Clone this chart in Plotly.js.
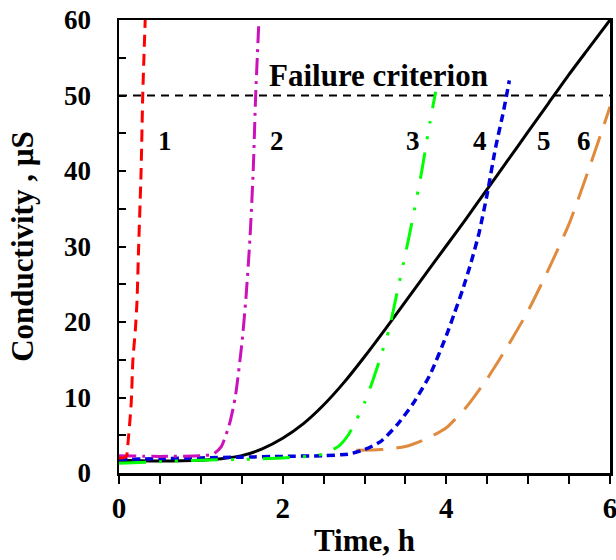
<!DOCTYPE html>
<html><head><meta charset="utf-8">
<script src="https://cdn.plot.ly/plotly-3.0.1.min.js"></script>
<style>html,body{margin:0;padding:0;background:#fff}#chart{width:616px;height:560px}</style>
</head><body><div id="chart"></div>
<script>
// Curve 1 (red dashed)
const x1 = [0, 0.05, 0.09, 0.11, 0.13, 0.15, 0.17, 0.2, 0.22, 0.24, 0.27, 0.29, 0.32];
const y1 = [2.0, 2.0, 2.2, 4, 6.5, 9.4, 15, 19, 22.7, 30, 40, 50, 60];
// Curve 2 (magenta dash-dot)
const x2 = [0, 0.5, 1.0, 1.15, 1.25, 1.35, 1.42, 1.5, 1.55, 1.6, 1.64, 1.67, 1.71];
const y2 = [2.3, 2.2, 2.3, 2.5, 3.5, 6.5, 10, 17, 23, 31, 40, 50, 60];
// Curve 3 (green dash-dot-dot)
const x3 = [0, 0.5, 1.0, 1.5, 2.0, 2.3, 2.5, 2.6, 2.7, 2.8, 2.9, 3.0, 3.1, 3.2, 3.3, 3.4, 3.5, 3.6, 3.7, 3.8, 3.87];
const y3 = [1.3, 1.5, 1.7, 1.8, 2.0, 2.2, 2.5, 3.0, 3.7, 5.0, 7.0, 9.3, 12.2, 15.5, 19, 24, 29, 34.3, 40, 46.5, 50.5];
// Curve 4 (blue short dash)
const x4 = [0, 0.5, 1.0, 1.5, 2.0, 2.5, 2.8, 3.0, 3.2, 3.4, 3.6, 3.8, 4.0, 4.1, 4.2, 4.3, 4.4, 4.5, 4.6, 4.7, 4.77];
const y4 = [1.8, 1.9, 2.0, 2.1, 2.2, 2.3, 2.5, 3.1, 4.2, 6.4, 9.3, 13.0, 18.2, 21.2, 24.3, 27.8, 31.8, 37, 43, 48, 52];
// Curve 5 (black solid)
const x5 = [0, 0.5, 1.0, 1.25, 1.5, 1.75, 2.0, 2.25, 2.5, 2.75, 3.0, 3.25, 3.5, 3.75, 4.0, 4.25, 4.5, 4.75, 5.0, 5.25, 5.5, 5.75, 6.0];
const y5 = [1.7, 1.6, 1.7, 1.9, 2.3, 3.2, 4.6, 6.5, 9.0, 12.0, 15.4, 19.0, 22.7, 26.4, 30.1, 33.8, 37.6, 41.4, 45.2, 49.0, 52.8, 56.4, 60];
// Curve 6 (orange long dash)
const x6 = [2.9, 3.2, 3.5, 3.75, 4.0, 4.25, 4.5, 4.75, 5.0, 5.25, 5.5, 5.75, 6.0];
const y6 = [3.0, 3.1, 3.5, 4.5, 6.0, 8.8, 12.5, 16.8, 21.5, 27, 33, 40.5, 48.5];
// Failure criterion line
const xFail = [0, 6];
const yFail = [50, 50];
// Curve labels
const labelText = ['1', '2', '3', '4', '5', '6'];
const labelX = [0.56, 1.93, 3.59, 4.41, 5.19, 5.68];
const labelY = [44, 44, 44, 44, 44, 44];

const font = 'Liberation Serif, Times New Roman, serif';
const sp = {shape: 'spline', smoothing: 0.6};
const traces = [
  {x: xFail, y: yFail, mode: 'lines', line: {color: '#000', width: 2, dash: '8px,6px'}},
  {x: x6, y: y6, mode: 'lines', line: Object.assign({color: '#E08A3E', width: 3, dash: '27px,13px'}, sp)},
  {x: x5, y: y5, mode: 'lines', line: Object.assign({color: '#000', width: 3}, sp)},
  {x: x4, y: y4, mode: 'lines', line: Object.assign({color: '#0000DD', width: 3.5, dash: '8px,5px'}, sp)},
  {x: x3, y: y3, mode: 'lines', line: Object.assign({color: '#00FF00', width: 3, dash: '27px,13px,3px,13px,3px,13px'}, sp)},
  {x: x2, y: y2, mode: 'lines', line: Object.assign({color: '#CC11BB', width: 3, dash: '17px,6px,3px,6px'}, sp)},
  {x: x1, y: y1, mode: 'lines', line: Object.assign({color: '#FF0000', width: 3, dash: '12px,7px'}, sp)}
];

const annotations = labelText.map((t, i) => ({
  x: labelX[i], y: labelY[i], text: '<b>' + t + '</b>', showarrow: false,
  xanchor: 'center', yanchor: 'middle', font: {family: font, size: 27, color: '#000'}
}));
annotations.push({x: 3.17, y: 52.7, text: '<b>Failure criterion</b>', showarrow: false,
  xanchor: 'center', yanchor: 'middle', font: {family: font, size: 31, color: '#000'}});

const layout = {
  width: 616, height: 560,
  margin: {l: 119, r: 6, t: 20, b: 87},
  paper_bgcolor: '#fff', plot_bgcolor: '#fff',
  showlegend: false,
  font: {family: font, color: '#000'},
  xaxis: {
    range: [0, 6], dtick: 2, tick0: 0, ticks: 'outside', ticklen: 8, tickwidth: 2, tickcolor: '#000',
    minor: {dtick: 0.5, ticks: 'outside', ticklen: 8, tickwidth: 2, tickcolor: '#000'},
    showgrid: false, zeroline: false, showline: true, mirror: true, linewidth: 2.5, linecolor: '#000',
    ticklabeloverflow: 'allow',
    tickfont: {family: font, size: 29, color: '#000', weight: 'bold'},
    title: {text: '<b>Time, h</b>', font: {family: font, size: 31, color: '#000'}, standoff: 6}
  },
  yaxis: {
    range: [0, 60], dtick: 10, tick0: 0, ticks: 'inside', ticklen: 7, tickwidth: 2, tickcolor: '#000',
    minor: {dtick: 5, ticks: 'inside', ticklen: 7, tickwidth: 2, tickcolor: '#000'},
    showgrid: false, zeroline: false, showline: true, mirror: true, linewidth: 2.5, linecolor: '#000',
    tickfont: {family: font, size: 27, color: '#000', weight: 'bold'},
    ticklabelstandoff: 20,
    title: {text: '<b>Conductivity , µS</b>', font: {family: font, size: 31, color: '#000'}, standoff: 21}
  },
  annotations: annotations
};

Plotly.newPlot('chart', traces, layout, {displayModeBar: false, staticPlot: true});
</script>
</body></html>
